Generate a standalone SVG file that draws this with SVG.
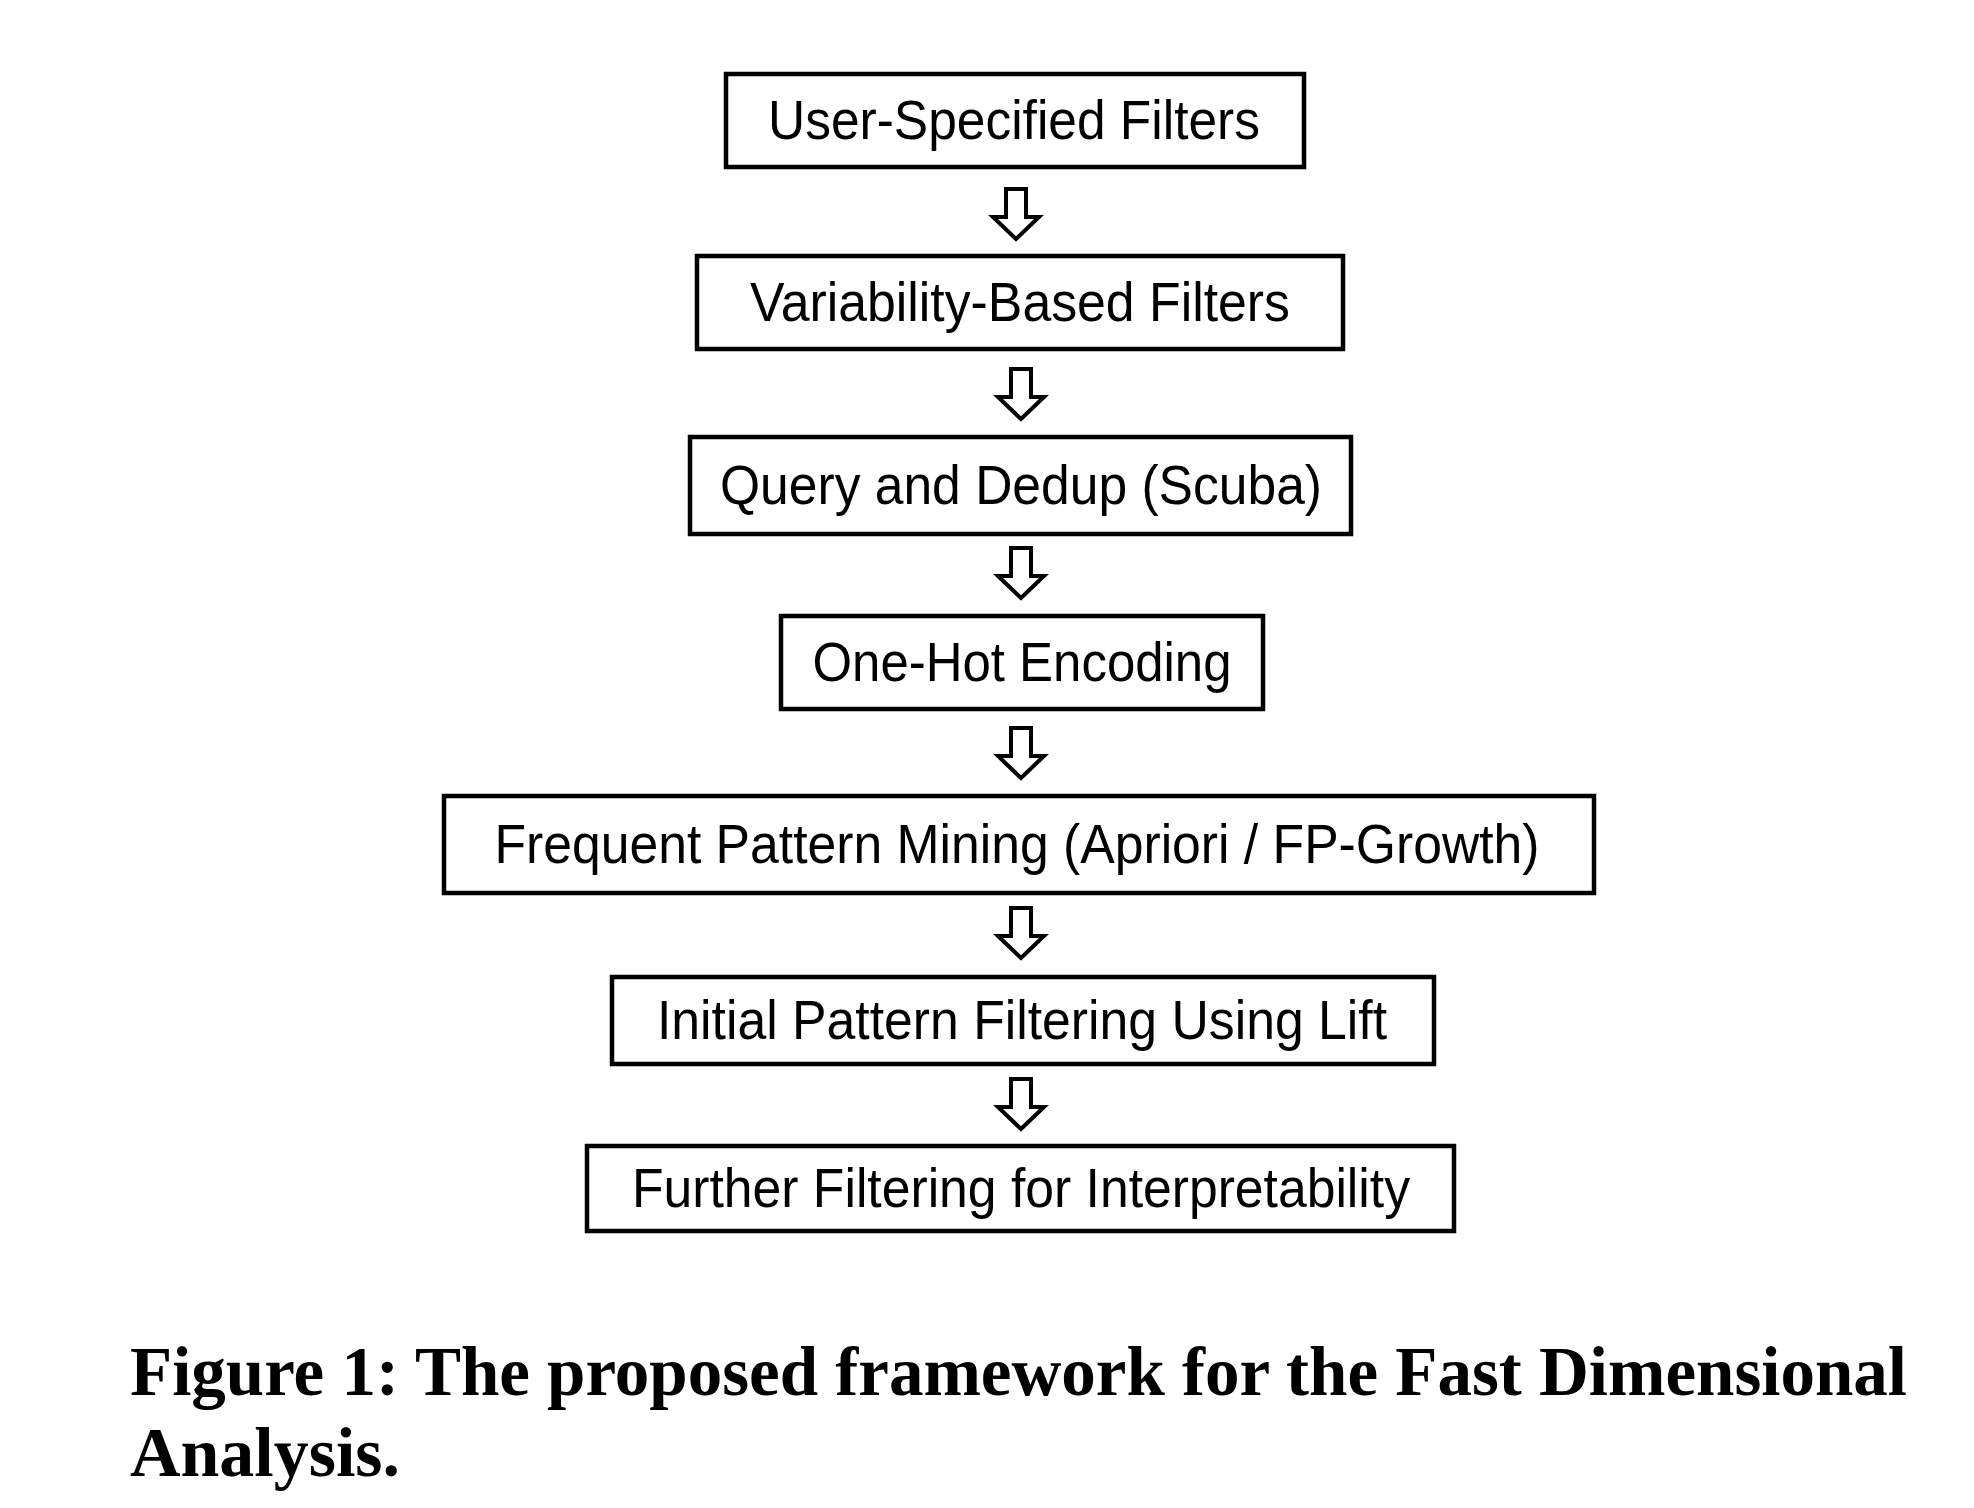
<svg xmlns="http://www.w3.org/2000/svg" width="1974" height="1508" viewBox="0 0 1974 1508">
<style>
.box{fill:#fff;stroke:#000;stroke-width:4.5}
.lbl{font-family:"Liberation Sans",Arial,sans-serif;font-size:55px;fill:#000;text-anchor:middle}
.arr{fill:#fff;stroke:#000;stroke-width:4;stroke-linejoin:miter}
.cap{font-family:"Liberation Serif","Times New Roman",serif;font-weight:bold;font-size:69px;fill:#000}
</style>
<defs>
<path id="darr" class="arr" d="M-10,0 H10 V28 H23 L0,50 L-23,28 H-10 Z"/>
</defs>
<rect width="1974" height="1508" fill="#fff"/>
<g id="n1"><rect class="box" x="726" y="74" width="578" height="93"/><text class="lbl" x="1014" y="139" textLength="492" lengthAdjust="spacingAndGlyphs">User-Specified Filters</text></g>
<g id="n2"><rect class="box" x="697" y="256" width="646" height="93"/><text class="lbl" x="1020" y="321" textLength="540" lengthAdjust="spacingAndGlyphs">Variability-Based Filters</text></g>
<g id="n3"><rect class="box" x="690" y="437" width="661" height="97"/><text class="lbl" x="1021" y="504" textLength="602" lengthAdjust="spacingAndGlyphs">Query and Dedup (Scuba)</text></g>
<g id="n4"><rect class="box" x="781" y="616" width="482" height="93"/><text class="lbl" x="1022" y="681" textLength="419" lengthAdjust="spacingAndGlyphs">One-Hot Encoding</text></g>
<g id="n5"><rect class="box" x="444" y="796" width="1150" height="97"/><text class="lbl" x="1017" y="863" textLength="1045" lengthAdjust="spacingAndGlyphs">Frequent Pattern Mining (Apriori / FP-Growth)</text></g>
<g id="n6"><rect class="box" x="612" y="977" width="822" height="87"/><text class="lbl" x="1022" y="1039" textLength="730" lengthAdjust="spacingAndGlyphs">Initial Pattern Filtering Using Lift</text></g>
<g id="n7"><rect class="box" x="587" y="1146" width="867" height="85"/><text class="lbl" x="1021" y="1207" textLength="778" lengthAdjust="spacingAndGlyphs">Further Filtering for Interpretability</text></g>
<g id="connectors">
<use href="#darr" x="1016" y="189"/>
<use href="#darr" x="1021" y="369"/>
<use href="#darr" x="1021" y="548"/>
<use href="#darr" x="1021" y="728"/>
<use href="#darr" x="1021" y="908"/>
<use href="#darr" x="1021" y="1079"/>
</g>
<g id="caption">
<text class="cap" x="130" y="1395" textLength="1777" lengthAdjust="spacingAndGlyphs">Figure 1: The proposed framework for the Fast Dimensional</text>
<text class="cap" x="130" y="1476" textLength="270" lengthAdjust="spacingAndGlyphs">Analysis.</text>
</g>
</svg>
